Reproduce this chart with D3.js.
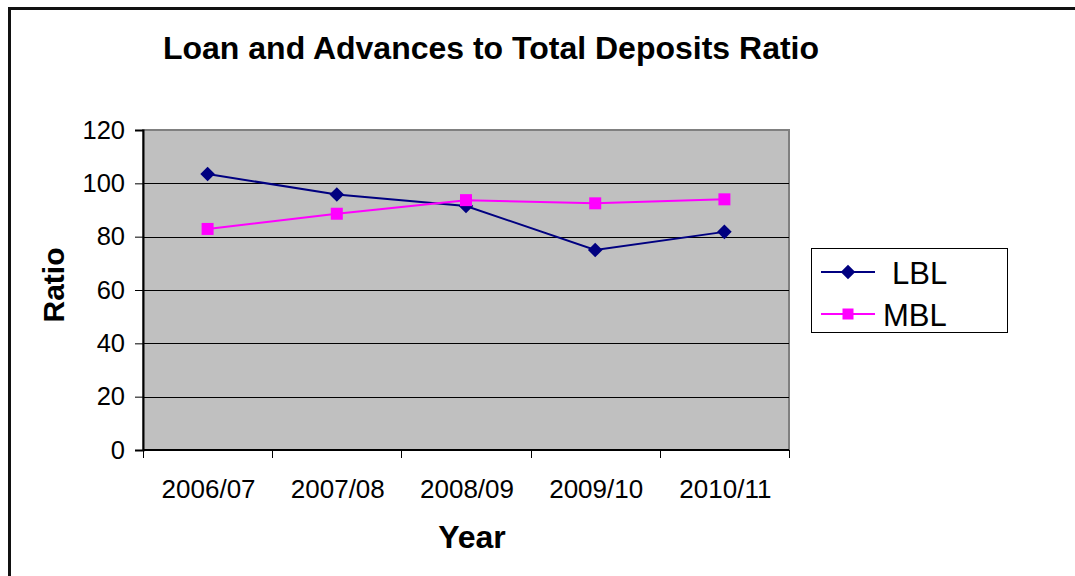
<!DOCTYPE html>
<html>
<head>
<meta charset="utf-8">
<script src="https://cdn.jsdelivr.net/npm/d3@7"></script>
<style>
  body { margin: 0; background: #fff; }
  text { font-family: "Liberation Sans", Arial, sans-serif; }
</style>
</head>
<body>
<div id="viz"></div>
<script>
// chart data
var years = ['2006/07', '2007/08', '2008/09', '2009/10', '2010/11'];
var lblValues = [103.5, 95.8, 91.5, 75.0, 81.8];
var mblValues = [82.9, 88.6, 93.7, 92.5, 94.0];
var yTicks = [0, 20, 40, 60, 80, 100, 120];
var seriesNames = ['LBL', 'MBL'];
var seriesColors = ['#000080', '#ff00ff'];

var svg = d3.select('#viz').append('svg')
  .attr('width', 1075)
  .attr('height', 576);

// outer chart frame (runs off the right and bottom edges)
svg.append('rect')
  .attr('x', 9.5).attr('y', 8.5)
  .attr('width', 1080).attr('height', 580)
  .attr('fill', '#fff')
  .attr('stroke', '#111')
  .attr('stroke-width', 3);

// plot area
var plot = { left: 143, top: 130, right: 789, bottom: 450 };

var x = d3.scaleBand().domain(years).range([plot.left, plot.right]);
var y = d3.scaleLinear().domain([0, 120]).range([plot.bottom, plot.top]);

svg.append('rect')
  .attr('x', plot.left).attr('y', plot.top)
  .attr('width', plot.right - plot.left)
  .attr('height', plot.bottom - plot.top)
  .attr('fill', '#c0c0c0')
  .attr('stroke', '#808080')
  .attr('stroke-width', 2);

// gridlines
svg.append('g').selectAll('line')
  .data(yTicks.filter(function(d) { return d > 0 && d < 120; }))
  .enter().append('line')
  .attr('x1', plot.left).attr('x2', plot.right)
  .attr('y1', function(d) { return Math.round(y(d)) + 0.5; })
  .attr('y2', function(d) { return Math.round(y(d)) + 0.5; })
  .attr('stroke', '#000')
  .attr('stroke-width', 1);

// y axis
var yAxis = svg.append('g')
  .attr('transform', 'translate(' + plot.left + ',0)')
  .call(d3.axisLeft(y).tickValues(yTicks).tickSize(8).tickPadding(10));
yAxis.select('.domain').attr('stroke', '#000').attr('stroke-width', 2);
yAxis.selectAll('.tick line').attr('stroke', '#000');
yAxis.selectAll('.tick text')
  .attr('font-size', 25.5).attr('fill', '#000')
  .attr('font-family', '"Liberation Sans", Arial, sans-serif');

// x axis, ticks between categories
var bounds = years.map(function(d) { return x(d); }).concat([plot.right]);
var xAxis = svg.append('g');
xAxis.append('line')
  .attr('x1', plot.left).attr('x2', plot.right)
  .attr('y1', plot.bottom).attr('y2', plot.bottom)
  .attr('stroke', '#000').attr('stroke-width', 2);
xAxis.selectAll('.xtick')
  .data(bounds).enter().append('line')
  .attr('class', 'xtick')
  .attr('x1', function(d) { return Math.round(d) + 0.5; })
  .attr('x2', function(d) { return Math.round(d) + 0.5; })
  .attr('y1', plot.bottom).attr('y2', plot.bottom + 8)
  .attr('stroke', '#000');
xAxis.selectAll('.xlabel')
  .data(years).enter().append('text')
  .attr('class', 'xlabel')
  .attr('x', function(d) { return x(d) + x.bandwidth() / 2 + 1; })
  .attr('y', 498)
  .attr('text-anchor', 'middle')
  .attr('font-size', 26)
  .text(function(d) { return d; });

// series lines and markers
var line = d3.line()
  .x(function(d, i) { return x(years[i]) + x.bandwidth() / 2; })
  .y(function(d) { return y(d); });

var diamond = d3.symbol().type(d3.symbolDiamond2).size(135);
var square = d3.symbol().type(d3.symbolSquare).size(144);

[lblValues, mblValues].forEach(function(vals, k) {
  svg.append('path')
    .datum(vals)
    .attr('d', line)
    .attr('fill', 'none')
    .attr('stroke', seriesColors[k])
    .attr('stroke-width', 2);
  svg.append('g').selectAll('path')
    .data(vals).enter().append('path')
    .attr('transform', function(d, i) {
      return 'translate(' + (x(years[i]) + x.bandwidth() / 2) + ',' + y(d) + ')';
    })
    .attr('d', k === 0 ? diamond : square)
    .attr('fill', seriesColors[k]);
});

// title and axis titles
svg.append('text')
  .attr('x', 491).attr('y', 59)
  .attr('text-anchor', 'middle')
  .attr('font-size', 32).attr('font-weight', 'bold')
  .text('Loan and Advances to Total Deposits Ratio');

svg.append('text')
  .attr('x', 472).attr('y', 548)
  .attr('text-anchor', 'middle')
  .attr('font-size', 32).attr('font-weight', 'bold')
  .text('Year');

svg.append('text')
  .attr('transform', 'translate(64,285) rotate(-90)')
  .attr('text-anchor', 'middle')
  .attr('font-size', 30).attr('font-weight', 'bold')
  .text('Ratio');

// legend
var legend = svg.append('g');
legend.append('rect')
  .attr('x', 811.5).attr('y', 248.5)
  .attr('width', 196).attr('height', 84)
  .attr('fill', '#fff')
  .attr('stroke', '#000').attr('stroke-width', 1);

var legendRows = [272, 314];
var labelX = [892, 883];
seriesNames.forEach(function(name, k) {
  legend.append('line')
    .attr('x1', 821).attr('x2', 875)
    .attr('y1', legendRows[k]).attr('y2', legendRows[k])
    .attr('stroke', seriesColors[k]).attr('stroke-width', 2);
  legend.append('path')
    .attr('transform', 'translate(848,' + legendRows[k] + ')')
    .attr('d', k === 0 ? diamond : d3.symbol().type(d3.symbolSquare).size(121))
    .attr('fill', seriesColors[k]);
  legend.append('text')
    .attr('x', labelX[k]).attr('y', legendRows[k] + 12)
    .attr('font-size', 31)
    .text(name);
});
</script>
</body>
</html>
